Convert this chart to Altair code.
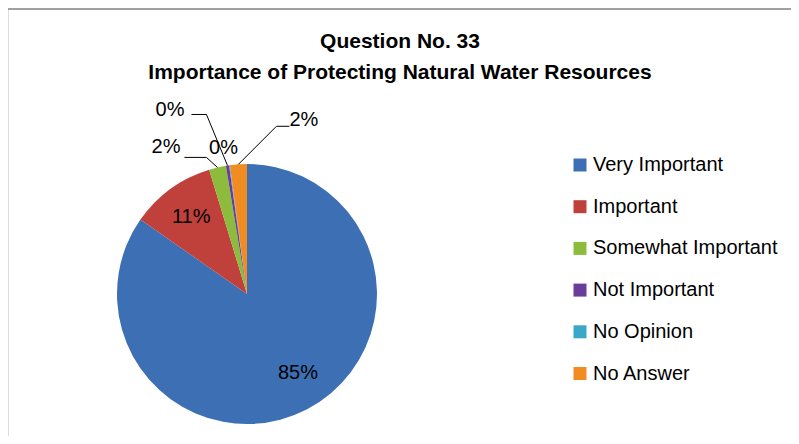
import altair as alt
import pandas as pd

# ---- data ----
CATEGORIES = ["Very Important", "Important", "Somewhat Important",
              "Not Important", "No Opinion", "No Answer"]
VALUES = [84.7, 10.6, 2.1, 0.4, 0.1, 2.1]
LABELS = ["85%", "11%", "2%", "0%", "0%", "2%"]
TITLE = "Question No. 33"
SUBTITLE = "Importance of Protecting Natural Water Resources"

# ---- styles ----
COLORS = ["#3d6fb5", "#c0403c", "#8dbb3c", "#6a3d9a", "#3aa8c6", "#f08c22"]
FONT = "Liberation Sans, Arial, sans-serif"
FS = 20
W, H = 783, 428
CX, CY, R = 239, 286, 130
INNER_LABEL_R = 95
INNER_NUDGE = {"Very Important": (7, -5), "Important": (0, 0)}
# callout layout: elbow offset from slice edge, horizontal arm, text offset
CALLOUTS = {
    "Somewhat Important": dict(elbow=(-11, -10), arm=-22, text=(-4, -10), align="right", line=True),
    "Not Important": dict(elbow=(-21, -51), arm=-15, text=(-7, -4), align="right", line=True),
    "No Opinion": dict(elbow=(-6, -17), arm=0, text=(0, 0), align="center", line=False),
    "No Answer": dict(elbow=(38, -38), arm=13, text=(0, -6), align="left", line=True),
}

df = pd.DataFrame({"category": CATEGORIES, "value": VALUES,
                   "label": LABELS, "order": list(range(len(CATEGORIES)))})

base = (
    alt.Chart(df)
    .transform_window(cum="sum(value)", sort=[alt.SortField("order")], frame=[None, 0])
    .transform_joinaggregate(total="sum(value)")
    .transform_calculate(mid="(datum.cum - datum.value/2) / datum.total * 2 * PI")
    .transform_calculate(ex=f"{CX} + {R} * sin(datum.mid)",
                         ey=f"{CY} - {R} * cos(datum.mid)")
)

pie = alt.Chart(df).mark_arc(outerRadius=R).encode(
    theta=alt.Theta("value:Q", stack=True),
    order=alt.Order("order:Q"),
    color=alt.Color(
        "category:N",
        scale=alt.Scale(domain=CATEGORIES, range=COLORS),
        legend=alt.Legend(
            title=None, orient="none", legendX=562, legendY=147,
            symbolType="square", symbolSize=169, symbolStrokeWidth=0,
            labelFont=FONT, labelFontSize=FS, labelColor="black",
            labelOffset=3, rowPadding=21.7, padding=0, labelLimit=400,
        ),
    ),
    x=alt.value(CX),
    y=alt.value(CY),
)

layers = [pie]
for cat, (ndx, ndy) in INNER_NUDGE.items():
    layers.append(
        base.transform_filter(alt.datum.category == cat)
        .transform_calculate(lx=f"{CX} + {INNER_LABEL_R} * sin(datum.mid)",
                             ly=f"{CY} - {INNER_LABEL_R} * cos(datum.mid)")
        .mark_text(font=FONT, fontSize=FS, color="black", dx=ndx, dy=ndy)
        .encode(x=alt.X("lx:Q", scale=None), y=alt.Y("ly:Q", scale=None), text="label:N")
    )

for cat, c in CALLOUTS.items():
    edx, edy = c["elbow"]
    arm = c["arm"]
    tdx, tdy = c["text"]
    sub = base.transform_filter(alt.datum.category == cat).transform_calculate(
        bx=f"datum.ex + {edx}", by=f"datum.ey + {edy}"
    ).transform_calculate(cx2=f"datum.bx + {arm}")
    if c["line"]:
        layers.append(sub.mark_rule(color="black", strokeWidth=1).encode(
            x=alt.X("ex:Q", scale=None), y=alt.Y("ey:Q", scale=None),
            x2="bx:Q", y2="by:Q"))
        layers.append(sub.mark_rule(color="black", strokeWidth=1).encode(
            x=alt.X("bx:Q", scale=None), y=alt.Y("by:Q", scale=None),
            x2="cx2:Q", y2="by:Q"))
    layers.append(sub.mark_text(font=FONT, fontSize=FS, color="black",
                                align=c["align"], baseline="middle", dx=tdx, dy=tdy)
                  .encode(x=alt.X("cx2:Q", scale=None), y=alt.Y("by:Q", scale=None),
                          text="label:N"))

tdf = pd.DataFrame({"t": [TITLE], "s": [SUBTITLE]})
title1 = alt.Chart(tdf).mark_text(font=FONT, fontSize=21, fontWeight="bold",
                                  color="black", baseline="middle").encode(
    text="t:N", x=alt.value(392), y=alt.value(34))
title2 = alt.Chart(tdf).mark_text(font=FONT, fontSize=21, fontWeight="bold",
                                  color="black", baseline="middle").encode(
    text="s:N", x=alt.value(392), y=alt.value(65))
border = alt.Chart(tdf).mark_rule(color="#a0a0a0", strokeWidth=2).encode(
    x=alt.value(0), x2=alt.value(W), y=alt.value(1))

chart = alt.layer(border, *layers, title1, title2).properties(
    width=W, height=H, autosize=alt.AutoSizeParams(type="none"), padding=0
).configure_view(stroke=None).configure(background="white")

chart.save("out.html", embed_options={"renderer": "svg", "actions": False})
